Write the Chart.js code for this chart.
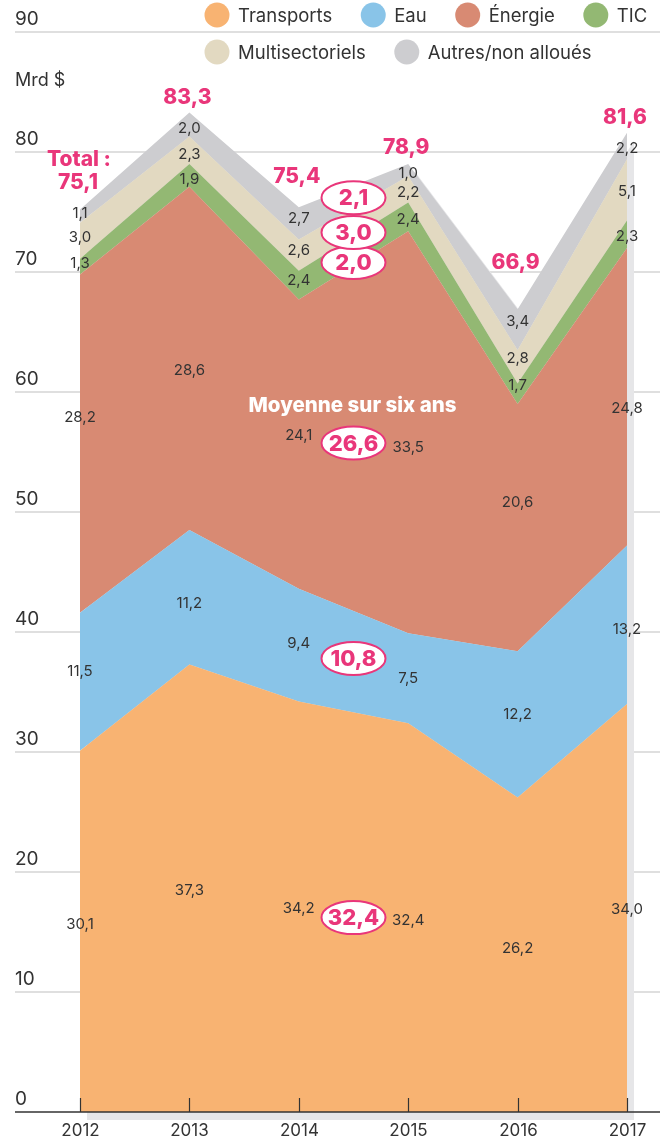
<!DOCTYPE html>
<html>
<head>
<meta charset="utf-8">
<script src="https://cdn.jsdelivr.net/npm/chart.js@4/dist/chart.umd.min.js"></script>
<style>
html,body{margin:0;padding:0;background:#fff}
canvas{display:block}
</style>
</head>
<body>
<canvas id="chart" width="665" height="1140"></canvas>
<script>
// données (Mrd $)
const annees=['2012','2013','2014','2015','2016','2017'];
const transports=[30.1,37.3,34.2,32.4,26.2,34.0];
const eau=[11.5,11.2,9.4,7.5,12.2,13.2];
const energie=[28.2,28.6,24.1,33.5,20.6,24.8];
const tic=[1.3,1.9,2.4,2.4,1.7,2.3];
const multi=[3.0,2.3,2.6,2.2,2.8,5.1];
const autres=[1.1,2.0,2.7,1.0,3.4,2.2];
const totaux=[75.1,83.3,75.4,78.9,66.9,81.6];
const moyennes=[32.4,10.8,26.6,2.0,3.0,2.1];
const noms=['Transports','Eau','Énergie','TIC','Multisectoriels','Autres/non alloués'];
const yTicks=[0,10,20,30,40,50,60,70,80,90];

const couleurs=['#f8b372','#89c4e8','#d88a73','#93b873','#e2d9c1','#cdcdd0'];
const ROSE='#e9367a', TXT='#333';
const FONT='Inter, "DejaVu Sans", sans-serif';
const valeurs=[transports,eau,energie,tic,multi,autres];
const fmt=v=>v.toFixed(1).replace('.',',');

// petits décalages verticaux des étiquettes (texte seulement)
const decal=[
  [-7,2,2,3,-6,1],
  [-10,6,-2,0,-10,5],
  [-26,12,-9,15,-25,12],
  [-3,4,-5,3,-8,2],
  [-3,4,-5,3,-8,2],
  [-3,4,-5,3,-8,2]
];
const decalTotal=[-27,-15,-31,-16,-47,-15];

function cumul(i,j){let s=0;for(let k=0;k<i;k++) s+=valeurs[k][j];return s;}

const habillage={
  id:'habillage',
  beforeDraw(chart){
    const {ctx,scales:{y}}=chart;
    ctx.save();
    ctx.font='19px '+FONT;
    ctx.fillStyle=TXT;
    ctx.textAlign='left';
    ctx.textBaseline='alphabetic';
    yTicks.forEach(t=>{
      const py=y.getPixelForValue(t);
      if(t>0){
        ctx.strokeStyle='#d4d4d4';
        ctx.lineWidth=1.5;
        ctx.beginPath();ctx.moveTo(15,py);ctx.lineTo(660,py);ctx.stroke();
      }
      ctx.fillText(String(t),15,py-7);
    });
    ctx.font='18px '+FONT;
    ctx.textBaseline='middle';
    ctx.fillText('Mrd $',15,81);
    ctx.restore();
  },
  beforeDatasetsDraw(chart){
    const {ctx,scales:{x,y}}=chart;
    ctx.save();
    ctx.fillStyle='#e6e6e8';
    ctx.beginPath();
    annees.forEach((a,j)=>{
      const px=x.getPixelForValue(j)+7, py=y.getPixelForValue(cumul(6,j))+8;
      j?ctx.lineTo(px,py):ctx.moveTo(px,py);
    });
    ctx.lineTo(x.getPixelForValue(5)+7,y.getPixelForValue(0)+8);
    ctx.lineTo(x.getPixelForValue(0)+7,y.getPixelForValue(0)+8);
    ctx.closePath();ctx.fill();
    ctx.restore();
  },
  afterDatasetsDraw(chart){
    const {ctx,scales:{x,y}}=chart;
    const y0=y.getPixelForValue(0);
    ctx.save();
    // axe
    ctx.strokeStyle='#333';
    ctx.lineWidth=1.5;
    ctx.beginPath();ctx.moveTo(15,y0);ctx.lineTo(660,y0);ctx.stroke();
    ctx.lineWidth=1.2;
    ctx.font='17px '+FONT;
    ctx.fillStyle=TXT;
    ctx.textAlign='center';
    ctx.textBaseline='middle';
    annees.forEach((a,j)=>{
      const px=Math.round(x.getPixelForValue(j))+0.5;
      ctx.beginPath();ctx.moveTo(px,y0-14);ctx.lineTo(px,y0);ctx.stroke();
      ctx.fillText(a,px,y0+19);
    });
    // valeurs
    ctx.font='15px '+FONT;
    valeurs.forEach((serie,i)=>{
      serie.forEach((v,j)=>{
        const py=y.getPixelForValue(cumul(i,j)+v/2)+decal[i][j];
        ctx.fillText(fmt(v),x.getPixelForValue(j),py);
      });
    });
    // totaux
    ctx.font='800 21px '+FONT;
    ctx.fillStyle=ROSE;
    totaux.forEach((t,j)=>{
      const px=x.getPixelForValue(j)-2;
      const py=y.getPixelForValue(cumul(6,j))+decalTotal[j];
      ctx.fillText(fmt(t),px,py);
      if(j===0) ctx.fillText('Total :',px+1,py-23);
    });
    // moyennes
    const mx=(x.getPixelForValue(2)+x.getPixelForValue(3))/2;
    let base=0, yEnergie=0;
    moyennes.forEach((m,i)=>{
      let py=y.getPixelForValue(base+m/2);
      if(i===2){py+=9;yEnergie=py;}
      if(i===5) py-=4;
      base+=m;
      ctx.beginPath();
      ctx.ellipse(mx,py,32,16.5,0,0,Math.PI*2);
      ctx.fillStyle='#fff';ctx.fill();
      ctx.strokeStyle=ROSE;ctx.lineWidth=2;ctx.stroke();
      ctx.fillStyle=ROSE;
      ctx.font='800 22px '+FONT;
      ctx.fillText(fmt(m),mx,py+1);
    });
    ctx.font='800 20.5px '+FONT;
    ctx.fillStyle='#fff';
    ctx.fillText('Moyenne sur six ans',mx-1,yEnergie-37);
    // légende
    ctx.font='18.5px '+FONT;
    ctx.textAlign='left';
    const rangees=[[0,1,2,3],[4,5]];
    rangees.forEach((r,k)=>{
      let cx=217;
      const cy=15+k*37;
      r.forEach(i=>{
        ctx.beginPath();ctx.arc(cx,cy,12.5,0,Math.PI*2);
        ctx.fillStyle=couleurs[i];ctx.fill();
        ctx.fillStyle=TXT;
        ctx.fillText(noms[i],cx+21,cy+1);
        cx+=21+ctx.measureText(noms[i]).width+41;
      });
    });
    ctx.restore();
  }
};

new Chart(document.getElementById('chart'),{
  type:'line',
  data:{
    labels:annees,
    datasets:valeurs.map((d,i)=>({
      label:noms[i],
      data:d,
      backgroundColor:couleurs[i],
      borderWidth:0,
      pointRadius:0,
      tension:0,
      fill:i===0?'origin':'-1'
    }))
  },
  options:{
    responsive:false,
    animation:false,
    devicePixelRatio:1,
    layout:{padding:{left:80,right:38,top:32,bottom:28}},
    plugins:{legend:{display:false},tooltip:{enabled:false}},
    scales:{
      x:{display:false,offset:false},
      y:{display:false,stacked:true,min:0,max:90}
    }
  },
  plugins:[habillage]
});
</script>
</body>
</html>
